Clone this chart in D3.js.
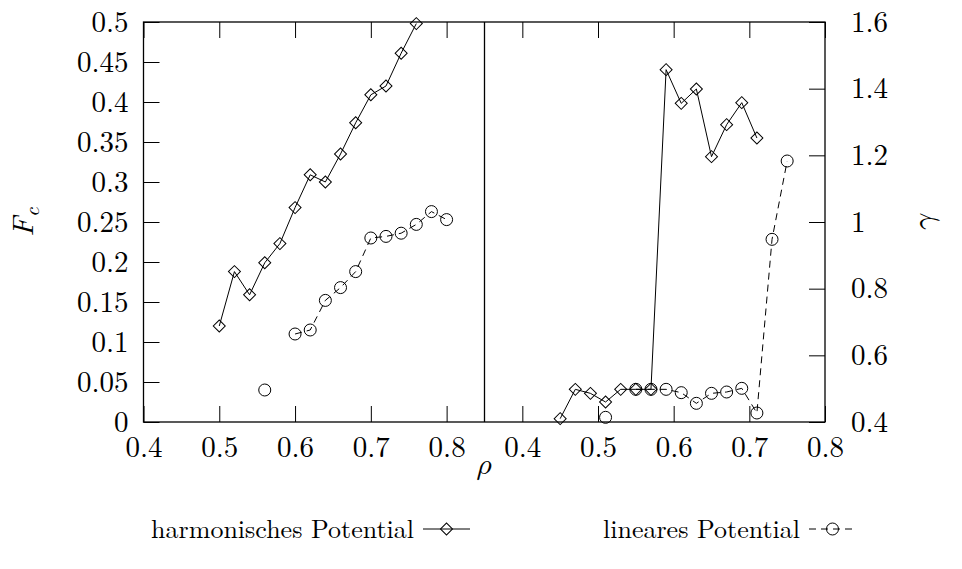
<!DOCTYPE html>
<html>
<head>
<meta charset="utf-8">
<script src="https://cdn.jsdelivr.net/npm/d3@7"></script>
<style>
  body { margin: 0; background: #fff; }
  svg { display: block; }
</style>
</head>
<body>
<svg id="chart" width="962" height="569"></svg>
<script>
// Left panel: critical force F_c versus density rho
const rhoLeftHarm = [0.50, 0.52, 0.54, 0.56, 0.58, 0.60, 0.62, 0.64, 0.66, 0.68, 0.70, 0.72, 0.74, 0.76];
const fcHarm      = [0.120, 0.188, 0.159, 0.199, 0.223, 0.268, 0.309, 0.300, 0.335, 0.374, 0.409, 0.420, 0.461, 0.498];
const rhoLeftLin  = [0.56, 0.58, 0.60, 0.62, 0.64, 0.66, 0.68, 0.70, 0.72, 0.74, 0.76, 0.78, 0.80];
const fcLin       = [0.040, null, 0.110, 0.115, 0.152, 0.168, 0.188, 0.230, 0.232, 0.236, 0.247, 0.263, 0.253];

// Right panel: exponent gamma versus density rho
const rhoRightHarm = [0.45, 0.47, 0.49, 0.51, 0.53, 0.55, 0.57, 0.59, 0.61, 0.63, 0.65, 0.67, 0.69, 0.71];
const gammaHarm    = [0.410, 0.498, 0.486, 0.460, 0.498, 0.498, 0.498, 1.457, 1.356, 1.399, 1.196, 1.292, 1.358, 1.252];
const rhoRightLin  = [0.51, 0.53, 0.55, 0.57, 0.59, 0.61, 0.63, 0.65, 0.67, 0.69, 0.71, 0.73, 0.75];
const gammaLin     = [0.414, null, 0.498, 0.498, 0.498, 0.488, 0.456, 0.486, 0.490, 0.501, 0.427, 0.948, 1.183];

// Tick labels
const xTicksLeft   = [0.4, 0.5, 0.6, 0.7, 0.8];
const xTicksRight  = [0.4, 0.5, 0.6, 0.7, 0.8];
const fcTicks      = [0, 0.05, 0.1, 0.15, 0.2, 0.25, 0.3, 0.35, 0.4, 0.45, 0.5];
const gammaTicks   = [0.4, 0.6, 0.8, 1.0, 1.2, 1.4, 1.6];

const legendLabels = ["harmonisches Potential", "lineares Potential"];

const SERIF = '"Latin Modern Roman", "Liberation Serif", serif';
const GREEK = '"Latin Modern Math", "DejaVu Serif", serif';
const svg = d3.select("#chart");
const plotTop = 22, plotBottom = 422;
const xL = d3.scaleLinear().domain([0.4, 0.85]).range([143.5, 484.5]);
const xR = d3.scaleLinear().domain([0.35, 0.8]).range([484.5, 825]);
const yF = d3.scaleLinear().domain([0, 0.5]).range([plotBottom, plotTop]);
const yG = d3.scaleLinear().domain([0.4, 1.6]).range([plotBottom, plotTop]);

const FS = 29;
const TICK = 16;
const fmt = d => String(+d.toFixed(2));

// frame
const frame = svg.append("g").attr("fill", "none").attr("stroke", "#000").attr("stroke-width", 1.3);
frame.append("rect").attr("x", 143.5).attr("y", plotTop).attr("width", 825 - 143.5).attr("height", plotBottom - plotTop);
frame.append("line").attr("x1", 484.5).attr("x2", 484.5).attr("y1", plotTop).attr("y2", plotBottom);

// axes (inward ticks drawn with d3 axis generators)
function styleAxis(g) {
  g.attr("font-family", SERIF).attr("font-size", FS);
  g.select(".domain").remove();
  g.selectAll(".tick line").attr("stroke", "#000").attr("stroke-width", 1);
  g.selectAll(".tick text").style("font-family", SERIF).style("font-size", FS + "px").attr("fill", "#000");
}
const xAxisL = d3.axisBottom(xL).tickValues(xTicksLeft).tickSize(-TICK).tickPadding(14).tickFormat(fmt);
svg.append("g").attr("transform", `translate(0,${plotBottom})`).call(xAxisL).call(styleAxis);
svg.append("g").attr("transform", `translate(0,${plotTop})`)
   .call(d3.axisTop(xL).tickValues(xTicksLeft).tickSize(-TICK).tickFormat(""))
   .call(styleAxis);
const xAxisR = d3.axisBottom(xR).tickValues(xTicksRight).tickSize(-TICK).tickPadding(14).tickFormat(fmt);
svg.append("g").attr("transform", `translate(0,${plotBottom})`).call(xAxisR).call(styleAxis);
svg.append("g").attr("transform", `translate(0,${plotTop})`)
   .call(d3.axisTop(xR).tickValues(xTicksRight).tickSize(-TICK).tickFormat(""))
   .call(styleAxis);
svg.append("g").attr("transform", `translate(143.5,0)`)
   .call(d3.axisLeft(yF).tickValues(fcTicks).tickSize(-TICK).tickPadding(15).tickFormat(fmt))
   .call(styleAxis);
svg.append("g").attr("transform", `translate(825,0)`)
   .call(d3.axisRight(yG).tickValues(gammaTicks).tickSize(-TICK).tickPadding(26).tickFormat(fmt))
   .call(styleAxis);

// axis titles
const fcLabel = svg.append("text").attr("transform", "translate(33,222) rotate(-90)")
  .attr("text-anchor", "middle").style("font-family", SERIF).style("font-size", "30px");
fcLabel.append("tspan").style("font-style", "italic").text("F");
fcLabel.append("tspan").style("font-style", "italic").style("font-size", "21px").attr("dy", "6").text("c");
svg.append("text").attr("transform", "translate(933,222) rotate(-90)")
  .attr("text-anchor", "middle").style("font-family", GREEK).style("font-size", "30px").text("𝛾");
svg.append("text").attr("x", 484).attr("y", 474).attr("text-anchor", "middle")
  .style("font-family", GREEK).style("font-size", "30px").text("𝜌");

// series drawing
function series(xs, ys, xScale, yScale, marker, dashed) {
  const pts = xs.map((x, i) => ({ x, y: ys[i] }));
  const line = d3.line().defined(d => d.y !== null).x(d => xScale(d.x)).y(d => yScale(d.y));
  svg.append("path").datum(pts).attr("d", line).attr("fill", "none").attr("stroke", "#000")
    .attr("stroke-width", 1).attr("stroke-dasharray", dashed ? "7,5" : null);
  const sym = d3.symbol().type(marker === "diamond" ? d3.symbolSquare : d3.symbolCircle)
    .size(marker === "diamond" ? 72 : 113);
  svg.append("g").selectAll("path").data(pts.filter(d => d.y !== null)).join("path")
    .attr("d", sym)
    .attr("transform", d => `translate(${xScale(d.x)},${yScale(d.y)})` + (marker === "diamond" ? " rotate(45)" : ""))
    .attr("fill", "none").attr("stroke", "#000").attr("stroke-width", 1);
}
series(rhoLeftHarm, fcHarm, xL, yF, "diamond", false);
series(rhoLeftLin, fcLin, xL, yF, "circle", true);
series(rhoRightHarm, gammaHarm, xR, yG, "diamond", false);
series(rhoRightLin, gammaLin, xR, yG, "circle", true);

// legend
const legend = [
  { label: legendLabels[0], textEnd: 414, x0: 423, x1: 470, marker: "diamond", dashed: false },
  { label: legendLabels[1], textEnd: 800, x0: 809, x1: 856, marker: "circle", dashed: true }
];
const ly = 529;
legend.forEach(l => {
  svg.append("text").attr("x", l.textEnd).attr("y", ly + 9).attr("text-anchor", "end")
    .style("font-family", SERIF).style("font-size", "26px").text(l.label);
  svg.append("line").attr("x1", l.x0).attr("x2", l.x1).attr("y1", ly).attr("y2", ly)
    .attr("stroke", "#000").attr("stroke-width", 1).attr("stroke-dasharray", l.dashed ? "7,5" : null);
  const sym = d3.symbol().type(l.marker === "diamond" ? d3.symbolSquare : d3.symbolCircle)
    .size(l.marker === "diamond" ? 72 : 113);
  svg.append("path").attr("d", sym)
    .attr("transform", `translate(${(l.x0 + l.x1) / 2},${ly})` + (l.marker === "diamond" ? " rotate(45)" : ""))
    .attr("fill", "none").attr("stroke", "#000").attr("stroke-width", 1);
});
</script>
</body>
</html>
